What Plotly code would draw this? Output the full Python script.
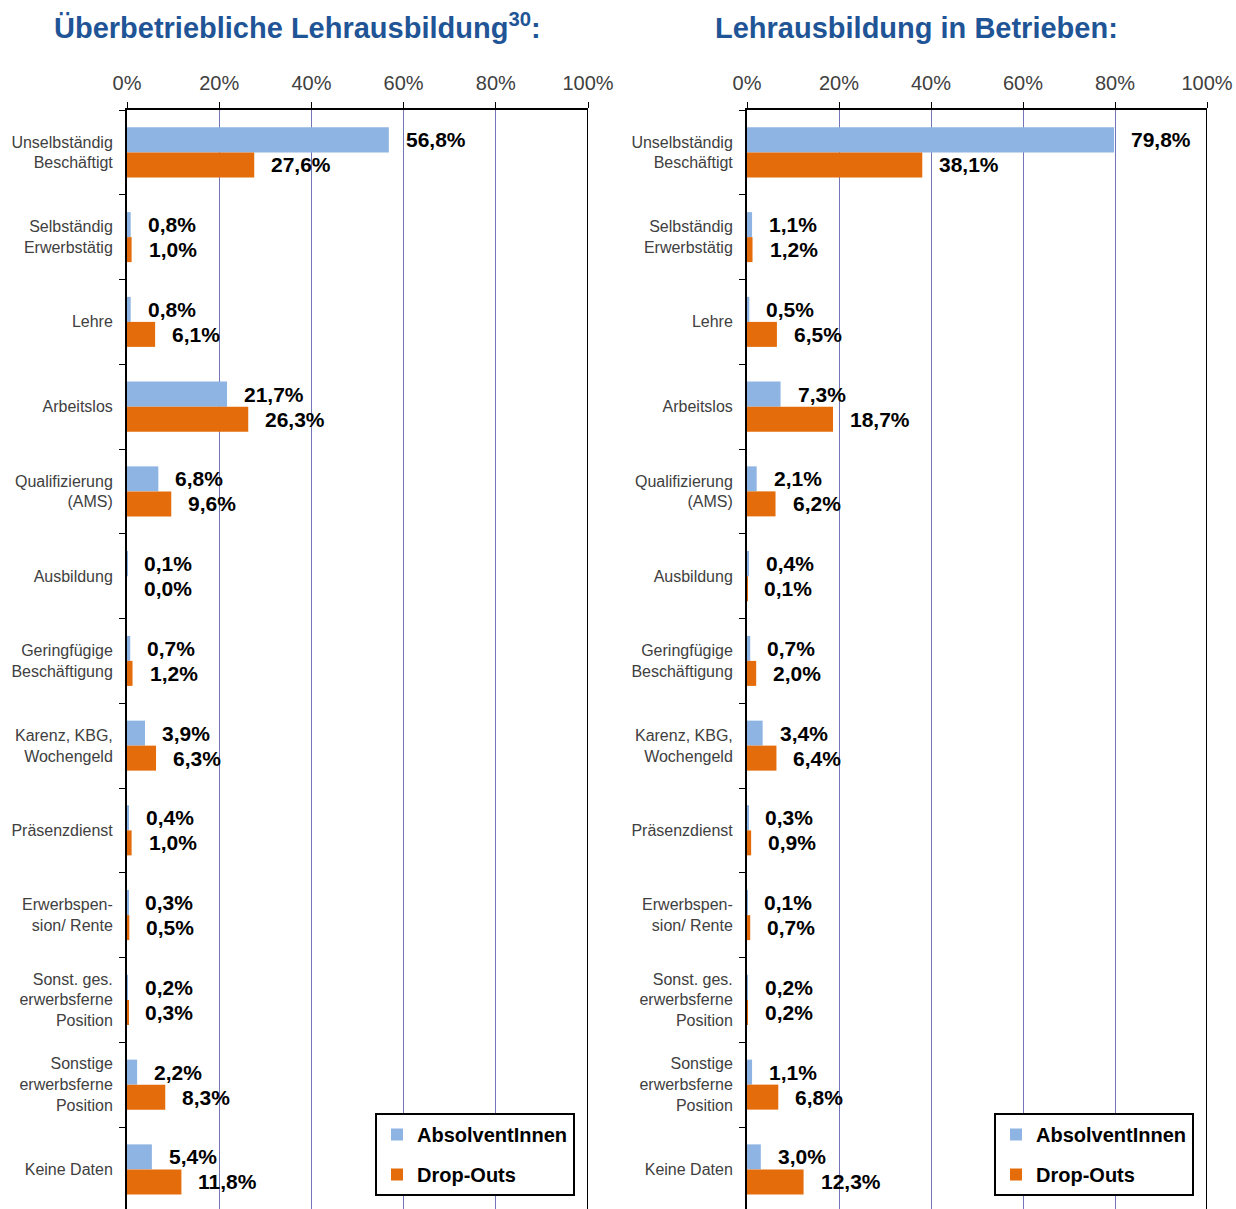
import plotly.graph_objects as go

categories = [
    "Unselbständig<br>Beschäftigt",
    "Selbständig<br>Erwerbstätig",
    "Lehre",
    "Arbeitslos",
    "Qualifizierung<br>(AMS)",
    "Ausbildung",
    "Geringfügige<br>Beschäftigung",
    "Karenz, KBG,<br>Wochengeld",
    "Präsenzdienst",
    "Erwerbspen-<br>sion/ Rente",
    "Sonst. ges.<br>erwerbsferne<br>Position",
    "Sonstige<br>erwerbsferne<br>Position",
    "Keine Daten",
]

left_absolvent = [56.8, 0.8, 0.8, 21.7, 6.8, 0.1, 0.7, 3.9, 0.4, 0.3, 0.2, 2.2, 5.4]
left_dropouts = [27.6, 1.0, 6.1, 26.3, 9.6, 0.0, 1.2, 6.3, 1.0, 0.5, 0.3, 8.3, 11.8]
right_absolvent = [79.8, 1.1, 0.5, 7.3, 2.1, 0.4, 0.7, 3.4, 0.3, 0.1, 0.2, 1.1, 3.0]
right_dropouts = [38.1, 1.2, 6.5, 18.7, 6.2, 0.1, 2.0, 6.4, 0.9, 0.7, 0.2, 6.8, 12.3]

titles = ["Überbetriebliche Lehrausbildung<sup>30</sup>:", "Lehrausbildung in Betrieben:"]
series_names = ["AbsolventInnen", "Drop-Outs"]
tick_vals = [0, 20, 40, 60, 80, 100]
tick_text = ["0%", "20%", "40%", "60%", "80%", "100%"]

BLUE = "#8EB4E3"
ORANGE = "#E46C0A"
GRID = "#7474B8"
TITLE_COLOR = "#1F5596"
FONT = "Liberation Sans, Arial, sans-serif"

W, H = 1236, 1209

def px(x):
    return x / W

def py(y):
    return 1 - y / H

top_px = 110
cat_px = 84.75

fig = go.Figure()

panels = [
    dict(xa="x", ya="y", legend="legend", data=(left_absolvent, left_dropouts),
         x0=127, x1=588, tx=297, ty=26, lx=375),
    dict(xa="x2", ya="y2", legend="legend2", data=(right_absolvent, right_dropouts),
         x0=747, x1=1207, tx=916, ty=28, lx=994),
]

annotations = []
shapes = []
for i, p in enumerate(panels):
    for j, (vals, color) in enumerate(zip(p["data"], [BLUE, ORANGE])):
        fig.add_trace(go.Bar(
            y=categories, x=vals, orientation="h", name=series_names[j],
            marker=dict(color=color, line=dict(width=0)),
            xaxis=p["xa"], yaxis=p["ya"], legend=p["legend"],
            legendgroup=f"{p['legend']}_{j}",
            hoverinfo="skip",
        ))
        for c, v in zip(categories, vals):
            annotations.append(dict(
                x=v, y=c, xref=p["xa"], yref=p["ya"],
                text="<b>" + f"{v:.1f}".replace(".", ",") + "%</b>",
                showarrow=False, xanchor="left", yanchor="middle",
                xshift=15, yshift=12.5 if j == 0 else -12.5,
                font=dict(family=FONT, size=21, color="black"),
            ))
    annotations.append(dict(
        x=px(p["tx"]), y=py(p["ty"]), xref="paper", yref="paper",
        text=f"<b>{titles[i]}</b>", showarrow=False,
        xanchor="center", yanchor="middle",
        font=dict(family=FONT, size=29, color=TITLE_COLOR),
    ))
    shapes.append(dict(
        type="line", xref=p["xa"], yref=f"{p['ya']} domain",
        x0=100, x1=100, y0=0, y1=1, line=dict(color="black", width=2),
    ))

plot_h = H - top_px
span = plot_h / cat_px
yrange = [-0.5 + span, -0.5]
ydom = [0, py(top_px)]

def xaxis_cfg(p):
    return dict(
        domain=[px(p["x0"]), px(p["x1"])], range=[0, 100], side="top",
        tickvals=tick_vals, ticktext=tick_text,
        showgrid=True, gridcolor=GRID, gridwidth=1,
        showline=True, linecolor="black", linewidth=2,
        ticks="outside", ticklen=6, tickcolor="black", tickwidth=1,
        tickfont=dict(family=FONT, size=20, color="#404040"),
        ticklabelstandoff=4, zeroline=False, fixedrange=True,
        automargin=False,
    )

def yaxis_cfg(p):
    return dict(
        domain=ydom, range=yrange, type="category",
        anchor=p["xa"],
        showline=True, linecolor="black", linewidth=2,
        ticks="outside", ticklen=6, tickcolor="black", tickwidth=1,
        tickson="boundaries",
        tickfont=dict(family=FONT, size=16, color="#404040"),
        ticklabelstandoff=9, showgrid=False, zeroline=False, fixedrange=True,
        automargin=False,
    )

legend_base = dict(
    yanchor="top", xanchor="left", y=py(1113),
    bgcolor="white", bordercolor="black", borderwidth=2,
    font=dict(family=FONT, size=20, color="black", weight="bold"),
    traceorder="grouped", tracegroupgap=11, itemwidth=30,
)

fig.update_layout(
    width=W, height=H,
    margin=dict(l=0, r=0, t=0, b=0),
    paper_bgcolor="white", plot_bgcolor="white",
    barmode="group", bargap=0.41, bargroupgap=0,
    xaxis=dict(**xaxis_cfg(panels[0]), anchor="y"),
    yaxis=yaxis_cfg(panels[0]),
    xaxis2=dict(**xaxis_cfg(panels[1]), anchor="y2"),
    yaxis2=yaxis_cfg(panels[1]),
    legend=dict(**legend_base, x=px(panels[0]["lx"])),
    legend2=dict(**legend_base, x=px(panels[1]["lx"])),
    annotations=annotations,
    shapes=shapes,
    font=dict(family=FONT),
)

fig.write_html(
    "out.html",
    config=dict(displayModeBar=False),
    post_script="document.body.style.margin='0';document.body.style.overflow='hidden';",
)
